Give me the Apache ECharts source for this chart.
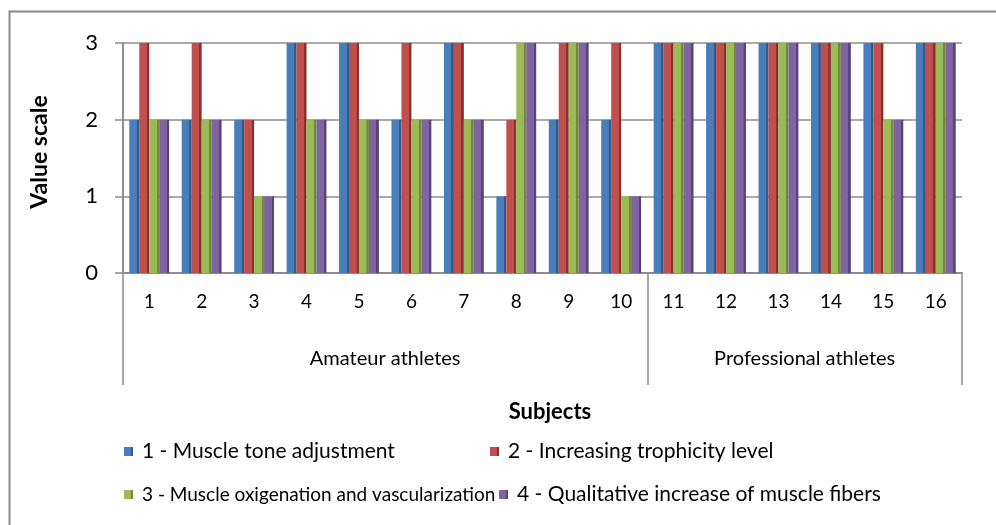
<!DOCTYPE html>
<html><head><meta charset="utf-8">
<script src="https://cdn.jsdelivr.net/npm/echarts@6/dist/echarts.min.js"></script>
<style>html,body{margin:0;padding:0;background:#fff}#c{width:996px;height:525px}</style>
</head><body><div id="c"></div>
<script>
const subjects = ['1','2','3','4','5','6','7','8','9','10','11','12','13','14','15','16'];
const groupLabels = ['Amateur athletes', 'Professional athletes'];
const groupCenters = [5, 13];
const groupBounds = [0, 10, 16];
const seriesNames = ['1 - Muscle tone adjustment', '2 - Increasing trophicity level', '3 - Muscle oxigenation and vascularization', '4 - Qualitative increase of muscle fibers'];
const muscleTone   = [2,2,2,3,3,2,3,1,2,2,3,3,3,3,3,3];
const trophicity   = [3,3,2,3,3,3,3,2,3,3,3,3,3,3,3,3];
const oxigenation  = [2,2,1,2,2,2,2,3,3,1,3,3,3,3,2,3];
const fibers       = [2,2,1,2,2,2,2,3,3,1,3,3,3,3,2,3];
const yTicks = [0,1,2,3];

const colors = ['#4A7EBB','#C0504D','#9BBB59','#8064A2'];
const darks  = ['#2F5A8F','#8E2E2B','#6E8B36','#5A4477'];
const FONT = 'Lato, "Open Sans", sans-serif';
const allData = [muscleTone, trophicity, oxigenation, fibers];

function grad(i){
  return new echarts.graphic.LinearGradient(0,0,1,0,[
    {offset:0,color:colors[i]},{offset:0.75,color:colors[i]},{offset:0.76,color:darks[i]},{offset:1,color:darks[i]}
  ]);
}

const chart = echarts.init(document.getElementById('c'));
const legendPos = [[119,436],[485,436],[119,480],[494,479]];
const legendSizes = [21,21,19,21];
chart.setOption({
  animation:false,
  textStyle:{fontFamily:FONT},
  grid:{left:123,right:34,top:43,bottom:252,containLabel:false},
  title:{text:'Subjects',left:545,top:396,textAlign:'center',textStyle:{fontFamily:FONT,fontSize:22,fontWeight:'bold',color:'#000'}},
  legend: seriesNames.map((n,i)=>({
    data:[n], left:legendPos[i][0], top:legendPos[i][1], itemWidth:9, itemHeight:9, itemGap:8,
    icon:'rect', textStyle:{fontFamily:FONT,fontSize:legendSizes[i],color:'#000',padding:[0,0,0,4]}, selectedMode:false
  })),
  xAxis:[
    {type:'category',data:subjects,position:'bottom',
     axisLine:{show:true,lineStyle:{color:'#8c8c8c',width:2}},
     axisTick:{show:false},
     axisLabel:{fontFamily:FONT,fontSize:19,color:'#000',margin:19}},
    {type:'value',min:0,max:16,position:'bottom',gridIndex:0,
     axisLine:{show:false},splitLine:{show:false},
     axisTick:{show:true,customValues:groupBounds,length:112,lineStyle:{color:'#8c8c8c',width:1.5}},
     axisLabel:{show:true,customValues:groupCenters,margin:76,fontFamily:FONT,fontSize:20,color:'#000',
       formatter:function(v){const k=groupCenters.indexOf(v);return k>=0?groupLabels[k]:'';}}}
  ],
  yAxis:{type:'value',min:0,max:3,interval:1,
    name:'Value scale',nameLocation:'middle',nameRotate:90,nameGap:72,
    nameTextStyle:{fontFamily:FONT,fontSize:23,fontWeight:'bold',color:'#000',padding:[0,0,0,12]},
    axisLine:{show:true,lineStyle:{color:'#8c8c8c',width:2}},
    axisTick:{show:true,length:8,lineStyle:{color:'#8c8c8c',width:1.5}},
    axisLabel:{fontFamily:FONT,fontSize:22,color:'#000',margin:25,
      formatter:function(v){return yTicks.indexOf(v)>=0?String(v):'';}},
    splitLine:{show:true,lineStyle:{color:'#8c8c8c',width:1.5}}},
  series: seriesNames.map((n,i)=>({
    name:n,type:'bar',data:allData[i],barGap:'0%',barCategoryGap:'24%',
    itemStyle:{color:grad(i)},
    emphasis:{disabled:true}
  })),
  graphic:[{type:'rect',shape:{x:9.5,y:11.5,width:1000,height:600},style:{fill:'none',stroke:'#8a8a8a',lineWidth:2},silent:true}]
});
chart.setOption({series: seriesNames.map((n,i)=>({name:n, color: colors[i]}))});
</script></body></html>
